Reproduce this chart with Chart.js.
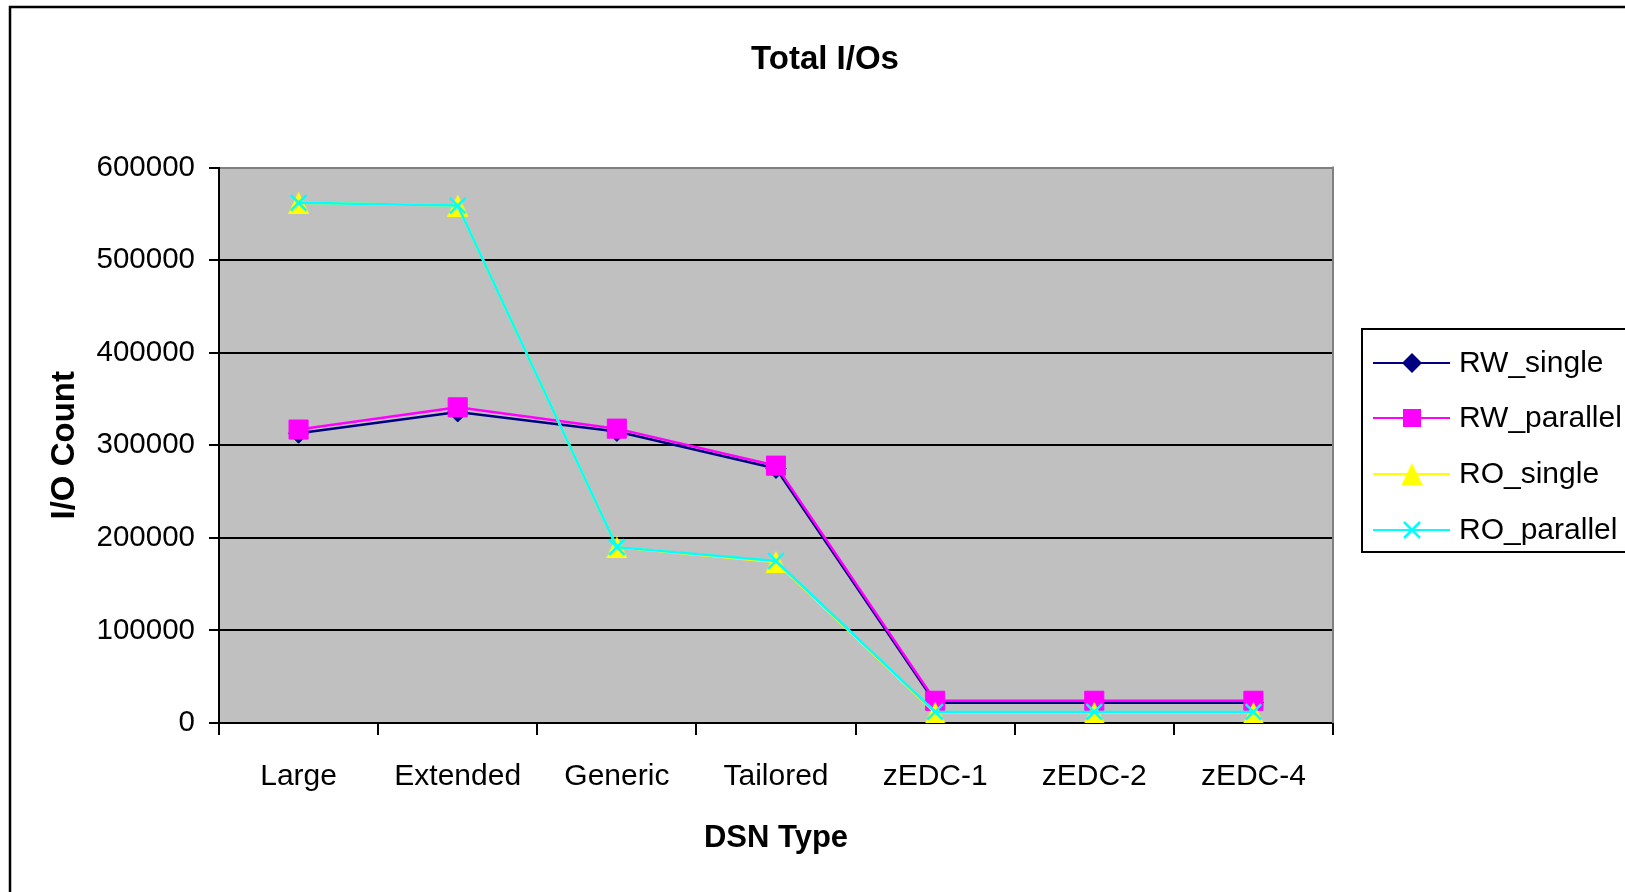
<!DOCTYPE html>
<html>
<head>
<meta charset="utf-8">
<script src="https://cdn.jsdelivr.net/npm/chart.js@4/dist/chart.umd.min.js"></script>
<style>
  html, body { margin: 0; padding: 0; background: #ffffff; }
  canvas { display: block; }
</style>
</head>
<body>
<canvas id="chart" width="1625" height="892"></canvas>
<script>
// DSN types on the category axis
const categories = ['Large', 'Extended', 'Generic', 'Tailored', 'zEDC-1', 'zEDC-2', 'zEDC-4'];

// Total I/O counts per series
const rwSingle   = [313000, 336000, 315000, 275000, 22000, 22000, 22000];
const rwParallel = [317000, 341000, 318000, 278000, 24000, 24000, 24000];
const roSingle   = [562000, 559000, 190000, 174000, 11000, 11000, 11000];
const roParallel = [562000, 559000, 190000, 175000, 12000, 12000, 12000];

const seriesNames = ['RW_single', 'RW_parallel', 'RO_single', 'RO_parallel'];

// Value axis
const yMin = 0;
const yMax = 600000;
const yStep = 100000;

const FONT = '"Liberation Sans", Arial, Helvetica, sans-serif';

// Triangle marker as a small image so its box is centred on the point
function triangleImage(w, h, color) {
  const c = document.createElement('canvas');
  c.width = w; c.height = h;
  const g = c.getContext('2d');
  g.fillStyle = color;
  g.beginPath();
  g.moveTo(w / 2, 0);
  g.lineTo(w, h);
  g.lineTo(0, h);
  g.closePath();
  g.fill();
  return c;
}
const triImg = triangleImage(21, 22, '#FFFF00');

// Marker painter used for the legend entries
function paintMarker(ctx, style, x, y, fill) {
  ctx.save();
  ctx.fillStyle = fill;
  ctx.strokeStyle = fill;
  if (style === 'rectRot') {
    const r = 10;
    ctx.beginPath();
    ctx.moveTo(x, y - r); ctx.lineTo(x + r, y); ctx.lineTo(x, y + r); ctx.lineTo(x - r, y);
    ctx.closePath(); ctx.fill();
  } else if (style === 'rect') {
    const s = 9;
    ctx.fillRect(x - s, y - s, 2 * s, 2 * s);
  } else if (style === 'crossRot') {
    const r = 8;
    ctx.lineWidth = 2.5;
    ctx.beginPath();
    ctx.moveTo(x - r, y - r); ctx.lineTo(x + r, y + r);
    ctx.moveTo(x + r, y - r); ctx.lineTo(x - r, y + r);
    ctx.stroke();
  } else if (style instanceof HTMLCanvasElement) {
    ctx.drawImage(style, x - style.width / 2, y - style.height / 2);
  }
  ctx.restore();
}

// Frame, plot background, plot border and legend box
const decorations = {
  id: 'decorations',
  beforeDraw(chart) {
    const { ctx, chartArea: a } = chart;
    ctx.save();
    ctx.fillStyle = '#C0C0C0';
    ctx.fillRect(a.left, a.top, a.right - a.left, a.bottom - a.top);
    ctx.restore();
  },
  beforeDatasetsDraw(chart) {
    const { ctx, chartArea: a } = chart;
    ctx.save();
    ctx.strokeStyle = '#808080';
    ctx.lineWidth = 2;
    ctx.beginPath();
    ctx.moveTo(a.right, a.top - 1);
    ctx.lineTo(a.right, a.bottom);
    ctx.stroke();
    ctx.restore();
  },
  afterDraw(chart) {
    const ctx = chart.ctx;
    ctx.save();
    // outer chart frame
    ctx.strokeStyle = '#000';
    ctx.lineWidth = 2.5;
    ctx.strokeRect(10, 7, 2000, 2000);

    // legend
    const box = { left: 1362, top: 329, bottom: 552 };
    ctx.lineWidth = 2;
    ctx.strokeRect(box.left, box.top, 2000, box.bottom - box.top);
    const rows = [363, 418, 474, 530];
    ctx.font = '30px ' + FONT;
    ctx.textBaseline = 'middle';
    ctx.textAlign = 'left';
    chart.data.datasets.forEach((ds, i) => {
      const y = rows[i];
      ctx.strokeStyle = ds.borderColor;
      ctx.lineWidth = 2;
      ctx.beginPath();
      ctx.moveTo(1373, y);
      ctx.lineTo(1450, y);
      ctx.stroke();
      paintMarker(ctx, ds.pointStyle, 1412, y, ds.pointBackgroundColor);
      ctx.fillStyle = '#000';
      ctx.fillText(ds.label, 1459, y + 1);
    });
    ctx.restore();
  }
};

const yTickValues = [];
for (let v = yMin; v <= yMax; v += yStep) yTickValues.push(v);

new Chart(document.getElementById('chart'), {
  type: 'line',
  data: {
    labels: categories,
    datasets: [
      {
        label: seriesNames[0], data: rwSingle, yAxisID: 'y', order: 4,
        borderColor: '#000080', backgroundColor: '#000080',
        pointStyle: 'rectRot', pointRadius: 10, pointHoverRadius: 10,
        pointBackgroundColor: '#000080', pointBorderColor: '#000080', pointBorderWidth: 1,
        borderWidth: 2.5, tension: 0
      },
      {
        label: seriesNames[1], data: rwParallel, yAxisID: 'y', order: 3,
        borderColor: '#FF00FF', backgroundColor: '#FF00FF',
        pointStyle: 'rect', pointRadius: 13.5, pointHoverRadius: 13.5,
        pointBackgroundColor: '#FF00FF', pointBorderColor: '#FF00FF', pointBorderWidth: 1,
        borderWidth: 2.5, tension: 0
      },
      {
        label: seriesNames[2], data: roSingle, yAxisID: 'y', order: 2,
        borderColor: '#FFFF00', backgroundColor: '#FFFF00',
        pointStyle: triImg, pointRadius: 11, pointHoverRadius: 11,
        pointBackgroundColor: '#FFFF00', pointBorderColor: '#FFFF00',
        borderWidth: 2.5, tension: 0
      },
      {
        label: seriesNames[3], data: roParallel, yAxisID: 'y', order: 1,
        borderColor: '#00FFFF', backgroundColor: '#00FFFF',
        pointStyle: 'crossRot', pointRadius: 11, pointHoverRadius: 11,
        pointBackgroundColor: '#00FFFF', pointBorderColor: '#00FFFF', pointBorderWidth: 2.5,
        borderWidth: 2.5, tension: 0
      }
    ]
  },
  options: {
    responsive: false,
    devicePixelRatio: 1,
    animation: false,
    events: [],
    layout: { padding: { left: 25, right: 0, top: 0, bottom: 0 } },
    plugins: {
      legend: { display: false },
      tooltip: { enabled: false },
      title: {
        display: true,
        text: 'Total I/Os',
        color: '#000',
        font: { family: FONT, size: 33, weight: 'bold' },
        padding: { top: 40, bottom: 88 }
      }
    },
    scales: {
      x: {
        type: 'category',
        offset: true,
        grid: {
          offset: true, drawOnChartArea: false, drawTicks: true,
          tickLength: 12, color: '#000', tickColor: '#000', lineWidth: 2
        },
        border: { display: true, color: '#000', width: 2 },
        ticks: { color: '#000', font: { family: FONT, size: 30 }, padding: 24, maxRotation: 0 },
        title: {
          display: true, text: 'DSN Type', color: '#000',
          font: { family: FONT, size: 31, weight: 'bold' },
          padding: { top: 0, bottom: 35 }
        },
        afterFit(scale) { scale.height = 169; }
      },
      y: {
        position: 'left',
        min: yMin, max: yMax,
        afterBuildTicks(scale) { scale.ticks = yTickValues.map(v => ({ value: v })); },
        grid: {
          color: (c) => (c.tick && c.tick.value === yMax ? '#808080' : '#000'),
          tickColor: '#000', lineWidth: 2, tickLength: 10, drawTicks: true
        },
        border: { display: true, color: '#000', width: 2 },
        ticks: {
          color: '#000', font: { family: FONT, size: 29.5 }, padding: 14,
          callback: (v) => String(v)
        },
        title: {
          display: true, text: 'I/O Count', color: '#000',
          font: { family: FONT, size: 33, weight: 'bold' },
          padding: { top: 20, bottom: 0 }
        },
        afterFit(scale) { scale.width = 219 - 25; }
      },
      yRight: {
        position: 'right',
        display: true,
        grid: { display: false, drawTicks: false },
        border: { display: false },
        ticks: { display: false },
        afterFit(scale) { scale.width = 1625 - 1333; }
      }
    }
  },
  plugins: [decorations]
});
</script>
</body>
</html>
